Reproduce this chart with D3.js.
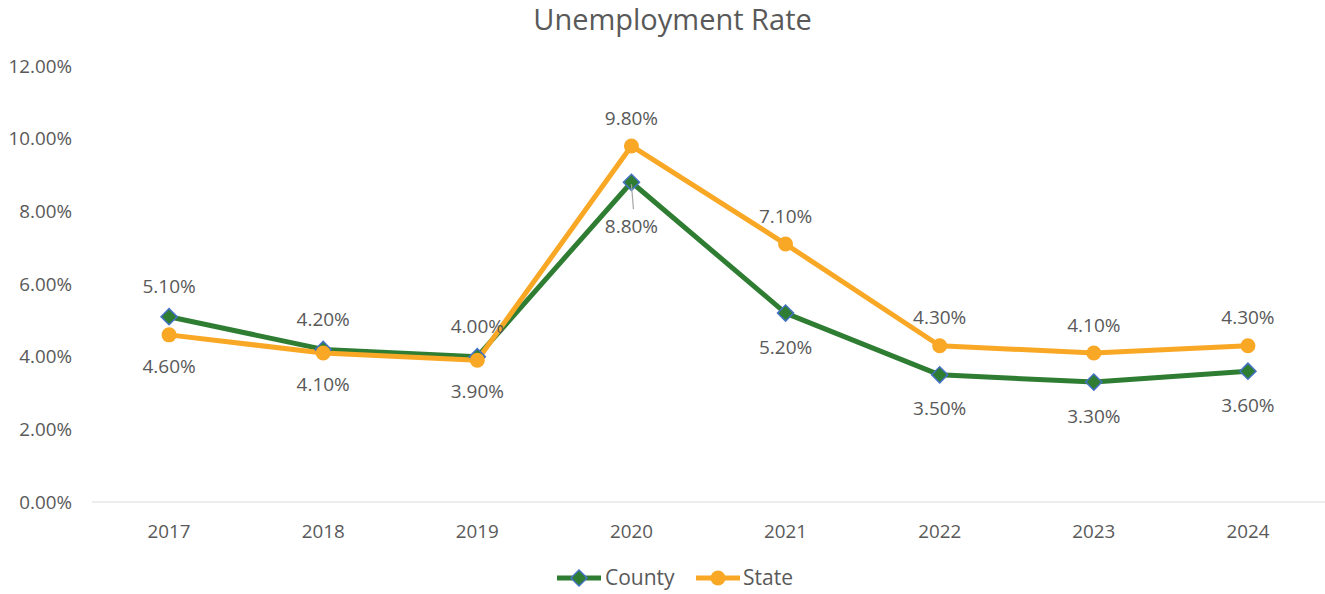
<!DOCTYPE html>
<html>
<head>
<meta charset="utf-8">
<script src="https://cdn.jsdelivr.net/npm/d3@7"></script>
<style>
  body { margin: 0; background: #fff; }
  svg { font-family: "Open Sans", "Noto Sans", sans-serif; }
</style>
</head>
<body>
<svg id="chart" width="1325" height="594"></svg>
<script>
const years = ["2017", "2018", "2019", "2020", "2021", "2022", "2023", "2024"];
const county = [5.1, 4.2, 4.0, 8.8, 5.2, 3.5, 3.3, 3.6];
const state = [4.6, 4.1, 3.9, 9.8, 7.1, 4.3, 4.1, 4.3];
const yTicks = [0, 2, 4, 6, 8, 10, 12];
// label placement per point: true = above
const countyAbove = [true, true, true, false, false, false, false, false];
const stateAbove = [false, false, false, true, true, true, true, true];

const svg = d3.select("#chart");
const W = 1325, H = 594;
const m = { left: 92, right: 0, top: 66, bottom: 92 };
const textCol = "#595959";
const green = "#2f7d32", orange = "#f9a826", blueEdge = "#4472c4";

const x = d3.scaleBand().domain(years).range([m.left, W - m.right]);
const y = d3.scaleLinear().domain([0, 12]).range([H - m.bottom, m.top]);
const cx = d => x(d) + x.bandwidth() / 2;

svg.append("text").attr("x", W / 2 + 10).attr("y", 30).attr("text-anchor", "middle")
  .attr("font-size", 29).attr("fill", textCol).text("Unemployment Rate");

// y tick labels
svg.append("g").selectAll("text").data(yTicks).join("text")
  .attr("x", 72).attr("y", d => y(d)).attr("dy", "0.35em").attr("text-anchor", "end")
  .attr("font-size", 18.8).attr("fill", textCol).text(d => d.toFixed(2) + "%");

// baseline
svg.append("line").attr("x1", m.left).attr("x2", W - m.right)
  .attr("y1", y(0)).attr("y2", y(0)).attr("stroke", "#d9d9d9").attr("stroke-width", 1);

// x labels
svg.append("g").selectAll("text").data(years).join("text")
  .attr("x", d => cx(d)).attr("y", y(0) + 29).attr("dy", "0.35em").attr("text-anchor", "middle")
  .attr("font-size", 18.8).attr("fill", textCol).text(d => d);

const line = d3.line().x((d, i) => cx(years[i])).y(d => y(d));

svg.append("path").datum(county).attr("d", line).attr("fill", "none")
  .attr("stroke", green).attr("stroke-width", 5).attr("stroke-linejoin", "round");
svg.append("path").datum(state).attr("d", line).attr("fill", "none")
  .attr("stroke", orange).attr("stroke-width", 5).attr("stroke-linejoin", "round");

// county diamonds
const diamondPath = d3.symbol().type(d3.symbolSquare).size(130);
svg.append("g").selectAll("path").data(county).join("path")
  .attr("transform", (d, i) => `translate(${cx(years[i])},${y(d)}) rotate(45)`)
  .attr("d", diamondPath)
  .attr("fill", green).attr("stroke", blueEdge).attr("stroke-width", 1.5);

// state circles
svg.append("g").selectAll("circle").data(state).join("circle")
  .attr("cx", (d, i) => cx(years[i])).attr("cy", d => y(d)).attr("r", 7.5)
  .attr("fill", orange);

// data labels
function labels(vals, above, offAbove, offBelow) {
  svg.append("g").selectAll("text").data(vals).join("text")
    .attr("x", (d, i) => cx(years[i]))
    .attr("y", (d, i) => {
      let off = above[i] ? offAbove : offBelow;
      if (years[i] === "2020" && !above[i]) off = 44;
      return y(d) + off;
    })
    .attr("dy", "0.35em").attr("text-anchor", "middle")
    .attr("font-size", 19).attr("fill", textCol).text(d => d.toFixed(2) + "%");
}
labels(county, countyAbove, -30, 34);
labels(state, stateAbove, -28, 31);

// leader line for the 2020 county label
svg.append("line").attr("x1", cx("2020")).attr("y1", y(county[3]) + 2)
  .attr("x2", cx("2020") + 2).attr("y2", y(county[3]) + 27)
  .attr("stroke", "#a6a6a6").attr("stroke-width", 1.2);

// legend
const ly = 578;
const lg = svg.append("g");
lg.append("line").attr("x1", 557).attr("x2", 601).attr("y1", ly).attr("y2", ly)
  .attr("stroke", green).attr("stroke-width", 5);
lg.append("path").attr("transform", `translate(579,${ly}) rotate(45)`)
  .attr("d", diamondPath)
  .attr("fill", green).attr("stroke", blueEdge).attr("stroke-width", 1.5);
lg.append("text").attr("x", 605).attr("y", ly).attr("dy", "0.35em")
  .attr("font-size", 21).attr("fill", textCol).text("County");
lg.append("line").attr("x1", 696).attr("x2", 740).attr("y1", ly).attr("y2", ly)
  .attr("stroke", orange).attr("stroke-width", 5);
lg.append("circle").attr("cx", 718).attr("cy", ly).attr("r", 7.5).attr("fill", orange);
lg.append("text").attr("x", 743).attr("y", ly).attr("dy", "0.35em")
  .attr("font-size", 21).attr("fill", textCol).text("State");
</script>
</body>
</html>
